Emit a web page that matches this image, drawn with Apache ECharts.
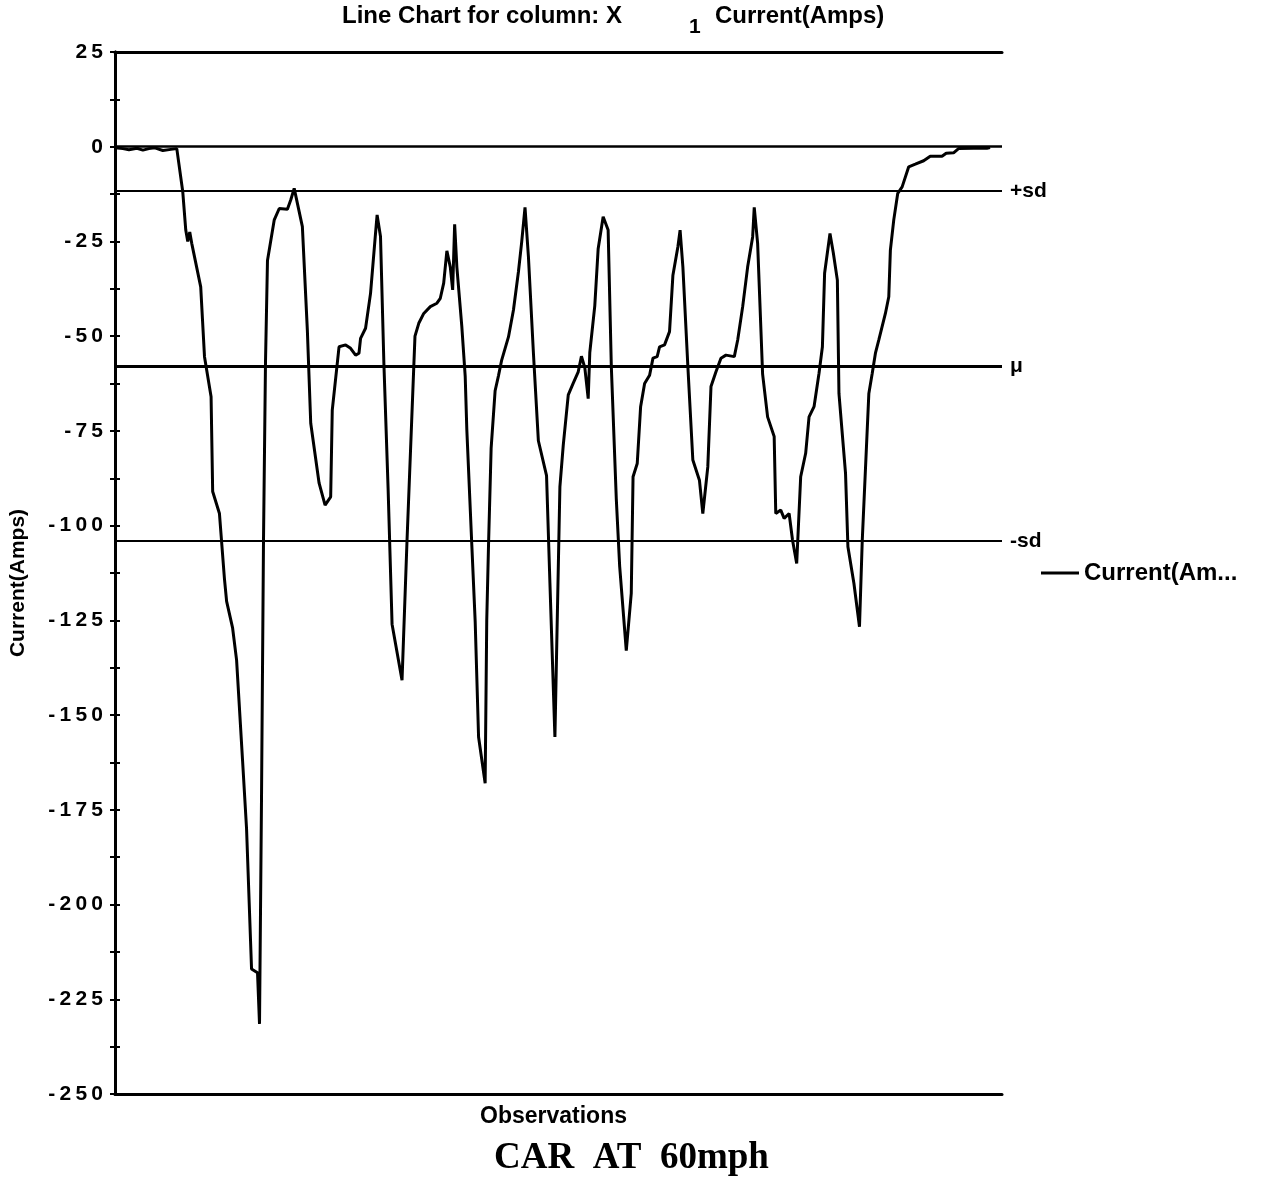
<!DOCTYPE html>
<html>
<head>
<meta charset="utf-8">
<script src="https://cdn.jsdelivr.net/npm/echarts@6/dist/echarts.min.js"></script>
<style>
  html, body { margin: 0; padding: 0; background: #fff; }
  #chart { width: 1263px; height: 1180px; }
</style>
</head>
<body>
<div id="chart"></div>
<script>
// Observation index of each recorded sample
const observations = [
  0, 4, 7, 11, 14, 17, 20, 24, 28, 31, 31.5, 34, 35.5, 36.5, 37.5, 38.5, 43, 44.9, 48.2, 49,
  52.4, 54.9, 56, 59, 61, 64, 66, 68.5, 71.5, 72.5, 73.5, 74.5, 75.5, 76.5, 79.9, 82.4, 86.5, 88.2, 89.9, 94,
  96.5, 98.2, 102.4, 105.4, 108.2, 109, 112.4, 115.7, 118.2, 120.7, 122.4, 123.2, 125.7, 128.2, 130.7, 131.5, 133.2, 134.9, 137, 139,
  144, 146.5, 149.9, 150.5, 152.4, 154.9, 158.2, 161.5, 163.2, 164.9, 166.5, 168.2, 169.4, 170.4, 171.5, 174, 175.7, 176.5, 179, 180.7,
  182.4, 185.7, 186.5, 187.4, 188.7, 190.7, 192.4, 194, 197.4, 199.9, 202.4, 204, 205.7, 207.4, 209.9, 212.4, 216.5, 218.2, 220.7, 223.2,
  224.9, 227.4, 229.9, 232.4, 234, 235.7, 237.4, 238.2, 240.7, 242.4, 244.9, 247.4, 249, 251.5, 253.2, 256.5, 259, 259.9, 262, 263.7,
  265.7, 268.2, 269.9, 272, 273.2, 275.7, 278.2, 279.9, 282.4, 283.5, 284.9, 287.4, 289.9, 293.2, 294.9, 297.4, 299, 301.5, 304, 306.5,
  310.7, 312.4, 314.9, 317.4, 319.9, 320.7, 322.4, 324.9, 327.4, 330.7, 331.5, 334, 335.7, 338.2, 339.9, 342, 344, 346.5, 348.2, 350.7,
  353.2, 354.9, 356, 358.7, 360.4, 362.4, 363.2, 366.5, 367.7, 370.7, 373.5, 374.9, 378.2, 379.9, 381.5, 383.2, 386.5, 388.2, 389, 390.7,
  392.7, 394.9, 398.2, 401.5, 405.7, 409, 414.9, 417, 420.7, 423.2, 430.7, 437.4, 439
];

// Current draw in amps at each observation
const current = [
  -0.3, -0.5, -0.8, -0.4, -0.9, -0.5, -0.3, -1.0, -0.7, -0.5, 0, -11.9, -22, -25, -22.5, -25.5, -37, -55.4, -66, -91,
  -96.8, -114, -120, -127, -135.5, -162, -180, -217, -218, -231.5, -172, -104, -57, -30, -19.3, -16.3, -16.5, -14, -11, -21.1,
  -48.4, -73, -88.8, -94.6, -92.4, -69.5, -52.8, -52.3, -53.2, -55, -54.5, -50.6, -47.9, -38.7, -22.9, -18, -23.7, -57.2, -90, -126,
  -140.8, -104, -58, -50, -46.6, -44, -42.2, -41.3, -40, -36, -27.5, -31.7, -37.8, -20.5, -31.7, -47.5, -60.7, -74.6, -105, -125.3,
  -155.8, -168, -125, -105, -79.6, -64.4, -60.4, -56.3, -50.2, -43.1, -33, -25.3, -16, -28.9, -54.3, -77.6, -86.8, -115.2, -155.8, -89.8,
  -78.7, -65.5, -62.4, -59.4, -55.3, -58.3, -66.5, -54.3, -42, -26.9, -18.5, -22, -58, -93, -110.8, -133, -117.9, -87.1, -83.6, -68.6,
  -62.5, -60.3, -55.8, -55.4, -52.8, -52.3, -48.8, -33.9, -26.4, -22, -31.7, -58, -82.7, -88, -96.8, -84.5, -63.3, -59.4, -55.8, -55,
  -55.4, -51, -42.2, -31.7, -23.8, -16, -25.5, -60, -71.3, -76.5, -96.8, -95.9, -98.1, -96.8, -103.8, -110, -87.1, -80.9, -71.3, -68.6,
  -59.8, -52.8, -33.4, -22.9, -28.1, -35.2, -65.1, -86.2, -105.6, -115.2, -126.7, -103.8, -65.1, -59.8, -54.5, -51, -44, -39.6, -27.3, -19.3,
  -12.3, -10.6, -5.3, -4.6, -3.7, -2.5, -2.5, -1.7, -1.6, -0.5, -0.4, -0.4, -0.2
];

// Summary statistics drawn as reference lines
const statNames = ['+sd', '\u03bc', '-sd'];
const statValues = [-11.7, -57.9, -104.1];

// Axis range
const yMin = -250, yMax = 25, yStep = 12.5;
const xMax = 445;

const seriesData = observations.map((o, i) => [o, current[i]]);
const spaced = s => s.split('').join('\u2009');

const chart = echarts.init(document.getElementById('chart'), null, { renderer: 'canvas' });
const font = 'Liberation Sans, Arial, Helvetica, sans-serif';

chart.setOption({
  backgroundColor: '#fff',
  animation: false,
  textStyle: { fontFamily: font, color: '#000' },
  graphic: [
    { type: 'text', left: 342, top: 4, style: { text: 'Line Chart for column: X', font: 'bold 24px ' + font, fill: '#000' } },
    { type: 'text', left: 689, top: 17, style: { text: '1', font: 'bold 21px ' + font, fill: '#000' } },
    { type: 'text', left: 715, top: 4, style: { text: 'Current(Amps)', font: 'bold 24px ' + font, fill: '#000' } },
    { type: 'text', left: 'center', top: 1140, style: { text: 'CAR  AT  60mph', font: 'bold 37px "Liberation Serif", "Times New Roman", serif', fill: '#000' } }
  ],
  legend: {
    left: 1036, top: 556,
    icon: 'rect', itemWidth: 38, itemHeight: 3, itemGap: 10,
    textStyle: { fontSize: 24, fontWeight: 'bold', color: '#000', fontFamily: font, width: 160, overflow: 'truncate', ellipsis: '...' },
    data: ['Current(Amps)']
  },
  grid: { left: 109, right: 261, top: 52, bottom: 86 },
  xAxis: [
    {
      type: 'value', min: 0, max: xMax, position: 'bottom',
      name: 'Observations', nameLocation: 'middle', nameGap: 11,
      nameTextStyle: { fontSize: 23, fontWeight: 'bold', color: '#000', fontFamily: font, padding: [0, 10, 0, 0] },
      axisLine: { show: true, onZero: false, lineStyle: { color: '#000', width: 3 } },
      axisTick: { show: false }, axisLabel: { show: false }, splitLine: { show: false }
    },
    {
      type: 'value', min: 0, max: xMax, position: 'top',
      axisLine: { show: true, onZero: false, lineStyle: { color: '#000', width: 3 } },
      axisTick: { show: false }, axisLabel: { show: false }, splitLine: { show: false }
    }
  ],
  yAxis: [
    {
      type: 'value', min: yMin, max: yMax, interval: yStep, position: 'left',
      name: 'Current(Amps)', nameLocation: 'middle', nameGap: 86,
      nameTextStyle: { fontSize: 21, fontWeight: 'bold', color: '#000', fontFamily: font, padding: [0, 20, 0, 0] },
      axisLine: { show: true, lineStyle: { color: '#000', width: 3 } },
      axisTick: { show: true, inside: false, length: 5, lineStyle: { color: '#000', width: 2 } },
      axisLabel: {
        show: true, margin: 12, fontSize: 21, fontWeight: 'bold', color: '#000', fontFamily: font,
        formatter: v => (v % 25 === 0 ? spaced(String(v)) : '')
      },
      splitLine: { show: false }
    },
    {
      type: 'value', min: yMin, max: yMax, interval: yStep, position: 'right',
      axisLine: { show: true, lineStyle: { color: '#000', width: 3 } },
      axisTick: { show: true, inside: false, length: 5, lineStyle: { color: '#000', width: 2 } },
      axisLabel: { show: false },
      splitLine: { show: false }
    }
  ],
  series: [
    {
      name: 'Current(Amps)',
      type: 'line',
      data: seriesData,
      showSymbol: false,
      symbol: 'none',
      smooth: false,
      lineStyle: { color: '#000', width: 3 },
      itemStyle: { color: '#000' },
      markLine: {
        silent: true,
        symbol: 'none',
        lineStyle: { color: '#000', type: 'solid', width: 2 },
        label: {
          show: true, position: 'end', distance: 8, formatter: p => p.name,
          color: '#000', fontSize: 21, fontWeight: 'bold', fontFamily: font
        },
        data: [
          { yAxis: 0, name: '', lineStyle: { width: 2.5 }, label: { show: false } },
          { yAxis: statValues[0], name: statNames[0] },
          { yAxis: statValues[1], name: statNames[1], lineStyle: { width: 3 }, label: { padding: [16, 0, 0, 0] } },
          { yAxis: statValues[2], name: statNames[2] }
        ]
      }
    }
  ]
});
</script>
</body>
</html>
